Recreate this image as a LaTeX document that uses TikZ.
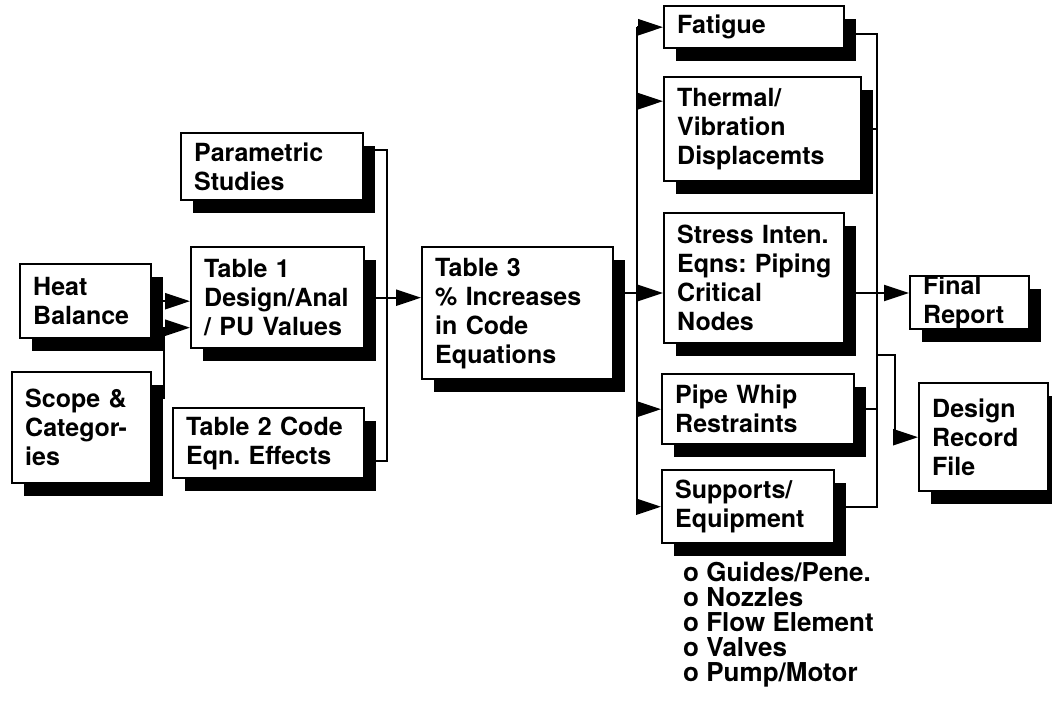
\documentclass[tikz,border=0pt]{standalone}
\usepackage{fontspec}
\setmainfont{TeX Gyre Heros}
\usetikzlibrary{
  positioning,
  arrows.meta,
  calc,
  shadows,
}
\AtBeginDocument{\frenchspacing\hyphenpenalty=10000\exhyphenpenalty=10000}

\begin{document}
\begin{tikzpicture}[
  x=1pt, y=-1pt,
  font=\bfseries\fontsize{25}{29}\selectfont,
  >={Triangle[length=25pt, width=16pt]},
  every node/.style={text=black},
  %
  box/.style={
    draw=black, fill=white, line width=2.4pt,
    anchor=north west, align=left,
    inner xsep=13pt, inner ysep=0pt,
    drop shadow={shadow xshift=12pt, shadow yshift=-13pt,
                 fill=black, opacity=1},
  },
  wire/.style={line width=2.2pt, draw=black},
  arr/.style={wire, ->},
  itemlist/.style={anchor=north west, align=left, inner sep=0pt,
                   font=\bfseries\fontsize{26}{25}\selectfont},
]
\useasboundingbox (0,0) rectangle (1052,718);

% ────────────── INPUT COLUMN (left) ────────────────────────────────────────
\node[box, text width=105pt, minimum height=74pt]  (heat)  at (19,263)  {Heat\\Balance};
\node[box, text width=113pt, minimum height=111pt] (scope) at (11,371)  {Scope~\&\\Categor-\\ies};

% ────────────── TABLES ─────────────────────────────────────────────────────
\node[box, text width=156pt, minimum height=67pt]  (param) at (180,132) {Parametric\\Studies};
\node[box, text width=147pt, minimum height=101pt] (tab1)  at (190,246) {Table~1\\Design/Anal\\/~PU~Values};
\node[box, text width=165pt, minimum height=70pt]  (tab2)  at (172,407) {Table~2~Code\\Eqn.~Effects};
\node[box, text width=165pt, minimum height=132pt] (tab3)  at (421,246) {Table~3\\\%~Increases\\in~Code\\Equations};

% ────────────── EVALUATION COLUMN ──────────────────────────────────────────
\node[box, text width=154pt, minimum height=42pt]  (fatigue)  at (663,5)   {Fatigue};
\node[box, text width=171pt, minimum height=104pt] (thermal)  at (663,76)  {Thermal/\\Vibration\\Displacemts};
\node[box, text width=154pt, minimum height=130pt] (stress)   at (663,212) {Stress~Inten.\\Eqns:~Piping\\Critical\\Nodes};
\node[box, text width=166pt, minimum height=70pt]  (whip)     at (661,373) {Pipe~Whip\\Restraints};
\node[box, text width=146pt, minimum height=73pt]  (supports) at (661,469) {Supports/\\Equipment};

\node[itemlist] (items) at (683,562)
  {o Guides/Pene.\\o Nozzles\\o Flow Element\\o Valves\\o Pump/Motor};

% ────────────── OUTPUTS ────────────────────────────────────────────────────
\node[box, text width=93pt,  minimum height=53pt]  (final)  at (909,275) {Final\\Report};
\node[box, text width=103pt, minimum height=108pt] (record) at (918,382) {Design\\Record\\File};

% ────────────── JUNCTIONS ──────────────────────────────────────────────────
\coordinate (sj)   at (164,398);   % scope riser
\coordinate (lbus) at (387,0);     % left collector
\coordinate (rbus) at (637,293);   % fan-out bus
\coordinate (cbus) at (877,0);     % right collector
\coordinate (rj)   at (895,355);   % branch to record file

% ────────────── ARROWS — Inputs → Table 1 ──────────────────────────────────
\draw[arr] (heat.east) -- (heat.east -| tab1.west);
\draw[arr] (scope.east |- sj) -- (sj) |- ($(tab1.west)+(0,30)$);

% ────────────── ARROWS — Tables → Table 3 ──────────────────────────────────
\draw[wire] ($(param.east)+(0,-17)$) -| (lbus |- tab1.east) |- ($(tab2.east)+(0,18)$);
\draw[arr] (tab1.east) -- (tab1.east -| tab3.west);

% ────────────── ARROWS — Table 3 → evaluations ─────────────────────────────
\draw[arr] (tab3.east |- rbus) -- (stress.west |- rbus);
\draw[wire] (rbus |- fatigue.west) -- (rbus |- supports.west);
\draw[arr] (rbus |- fatigue.west) -- (fatigue.west);
\draw[arr] ($(rbus |- thermal.west)+(0,-28)$) -- ($(thermal.west)+(0,-28)$);
\draw[arr] (rbus |- whip.west) -- (whip.west);
\draw[arr] (rbus |- supports.west) -- (supports.west);

% ────────────── ARROWS — evaluations → outputs ─────────────────────────────
\draw[wire] ($(fatigue.east)+(0,7)$) -- ($(cbus |- fatigue.east)+(0,7)$)
  -- (cbus |- supports.east) -- (supports.east);
\draw[wire] (thermal.east) -- (cbus |- thermal.east);
\draw[wire] (whip.east) -- (cbus |- whip.east);
\draw[arr] (stress.east |- rbus) -- (final.west |- rbus);
\draw[arr] (cbus |- rj) -- (rj) |- (record.west);

\end{tikzpicture}
\end{document}
